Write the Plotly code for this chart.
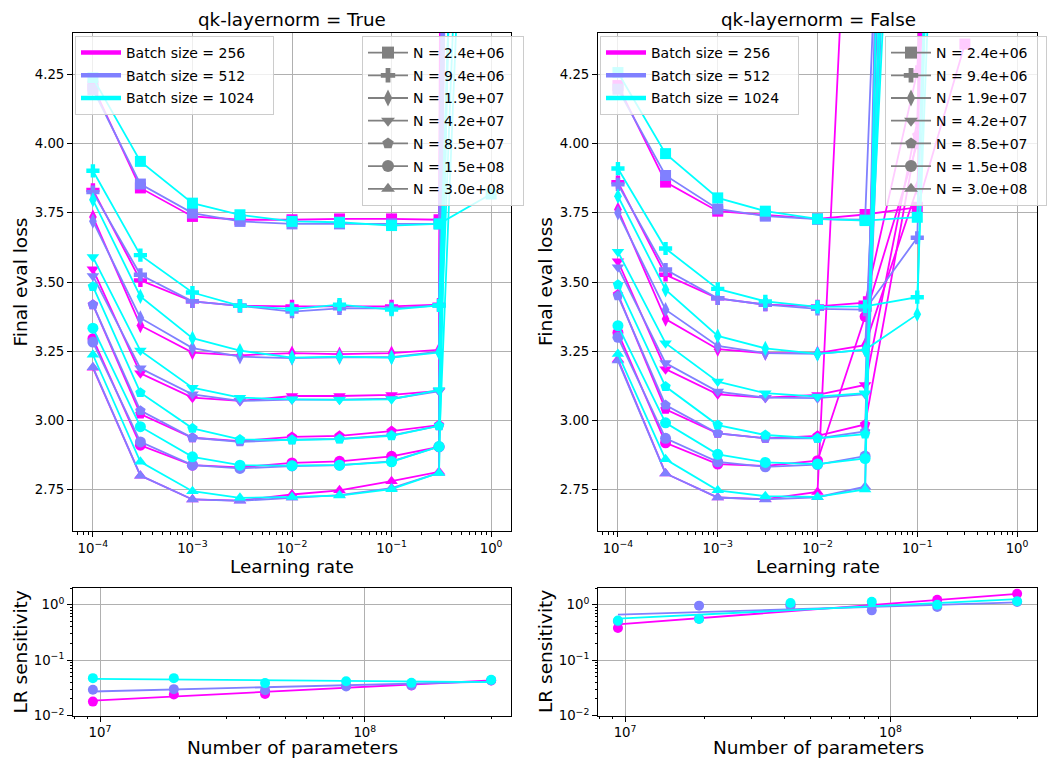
import plotly.graph_objects as go

W, H = 1047, 759

# ---------------- data ----------------
learning_rates = [1e-4, 3e-4, 1e-3, 3e-3, 1e-2, 3e-2, 1e-1, 3e-1, 1.0]
batch_sizes = [256, 512, 1024]
batch_colors = ["#ff00ff", "#8080ff", "#00ffff"]
model_sizes = [2.4e6, 9.4e6, 1.9e7, 4.2e7, 8.5e7, 1.5e8, 3.0e8]
model_labels = ["N = 2.4e+06", "N = 9.4e+06", "N = 1.9e+07", "N = 4.2e+07",
                "N = 8.5e+07", "N = 1.5e+08", "N = 3.0e+08"]
model_symbols = ["square", "cross", "diamond-tall", "triangle-down",
                 "pentagon", "circle", "triangle-up"]

# final eval loss, qk-layernorm = True  (rows: model sizes, cols: learning rates)
loss_qk_true_bs256 = [
    [4.208, 3.840, 3.737, 3.725, 3.725, 3.728, 3.728, 3.725, 45],
    [3.833, 3.506, 3.430, 3.414, 3.412, 3.412, 3.412, 3.418, 40],
    [3.735, 3.343, 3.245, 3.235, 3.243, 3.239, 3.243, 3.255, 35],
    [3.546, 3.170, 3.082, 3.070, 3.088, 3.088, 3.092, 3.106, 50],
    [3.418, 3.023, 2.937, 2.925, 2.940, 2.944, 2.961, 2.983, 30],
    [3.295, 2.910, 2.838, 2.830, 2.846, 2.852, 2.870, 2.904, 38],
    [3.190, 2.800, 2.714, 2.710, 2.732, 2.747, 2.780, 2.814, 42],
]
loss_qk_true_bs512 = [
    [4.196, 3.854, 3.749, 3.719, 3.710, 3.710, 3.710, 3.710, 20],
    [3.825, 3.526, 3.430, 3.414, 3.393, 3.405, 3.405, 3.415, 18],
    [3.720, 3.370, 3.261, 3.230, 3.225, 3.228, 3.228, 3.248, 22],
    [3.522, 3.188, 3.094, 3.070, 3.075, 3.075, 3.078, 3.105, 16],
    [3.418, 3.035, 2.937, 2.922, 2.930, 2.933, 2.946, 2.980, 25],
    [3.283, 2.922, 2.838, 2.826, 2.835, 2.838, 2.852, 2.905, 19],
    [3.192, 2.800, 2.714, 2.709, 2.720, 2.730, 2.755, 2.810, 21],
]
loss_qk_true_bs1024 = [
    [4.238, 3.936, 3.785, 3.743, 3.719, 3.716, 3.704, 3.710, 3.818],
    [3.902, 3.597, 3.462, 3.414, 3.402, 3.418, 3.400, 3.415, 9],
    [3.797, 3.448, 3.297, 3.252, 3.227, 3.230, 3.227, 3.245, 10],
    [3.590, 3.252, 3.118, 3.082, 3.076, 3.074, 3.076, 3.110, 8],
    [3.484, 3.100, 2.971, 2.931, 2.929, 2.932, 2.944, 2.980, 11],
    [3.333, 2.977, 2.868, 2.838, 2.836, 2.838, 2.850, 2.905, 7.5],
    [3.237, 2.850, 2.744, 2.720, 2.723, 2.728, 2.751, 2.810, 12],
]

# final eval loss, qk-layernorm = False
loss_qk_false_bs256 = [
    [4.210, 3.861, 3.756, 3.742, 3.728, 3.744, 3.770, 4.360, None],
    [3.861, 3.526, 3.441, 3.418, 3.412, 3.425, 4.260, 9, None],
    [3.762, 3.366, 3.257, 3.243, 3.243, 3.272, 3.840, 8, None],
    [3.575, 3.185, 3.094, 3.082, 3.092, 3.128, 4.080, 10, None],
    [3.455, 3.040, 2.953, 2.935, 2.944, 2.985, 4.030, 9, None],
    [3.317, 2.919, 2.842, 2.835, 2.854, 3.375, 4.000, 8.5, None],
    [3.220, 2.808, 2.721, 2.715, 2.741, 6.3, 8, 9, None],
]
loss_qk_false_bs512 = [
    [4.197, 3.885, 3.764, 3.738, 3.727, 3.725, 8.5, 9, None],
    [3.853, 3.545, 3.441, 3.418, 3.403, 3.400, 3.660, 9.5, None],
    [3.750, 3.400, 3.269, 3.243, 3.240, 3.255, 7.5, 8, None],
    [3.553, 3.207, 3.104, 3.082, 3.080, 3.095, 9, 9, None],
    [3.450, 3.055, 2.953, 2.935, 2.935, 2.960, 10, 9, None],
    [3.300, 2.935, 2.850, 2.832, 2.840, 2.871, 8, 9, None],
    [3.216, 2.808, 2.721, 2.714, 2.722, 2.760, 12, 9, None],
]
loss_qk_false_bs1024 = [
    [4.257, 3.964, 3.804, 3.756, 3.728, 3.722, 3.734, 9, None],
    [3.910, 3.621, 3.475, 3.430, 3.410, 3.412, 3.445, 8, None],
    [3.810, 3.472, 3.305, 3.260, 3.240, 3.255, 3.383, 10, None],
    [3.609, 3.279, 3.140, 3.098, 3.086, 3.098, 7, 9, None],
    [3.490, 3.122, 2.983, 2.947, 2.935, 2.950, 8, 9, None],
    [3.342, 2.991, 2.877, 2.848, 2.842, 2.862, 9, 9, None],
    [3.240, 2.859, 2.747, 2.726, 2.723, 2.750, 11, 9, None],
]

# LR sensitivity vs number of parameters
sens_params = [9.4e6, 1.9e7, 4.2e7, 8.5e7, 1.5e8, 3.0e8]
sens_qk_true_bs256 = [0.0178, 0.0240, 0.0245, 0.0345, 0.0347, 0.0428]
sens_qk_true_bs512 = [0.0292, 0.0299, 0.0285, 0.0333, 0.0350, 0.0430]
sens_qk_true_bs1024 = [0.0472, 0.0472, 0.0384, 0.0415, 0.0388, 0.0440]
sens_qk_false_bs256 = [0.379, 0.560, 1.000, 0.980, 1.230, 1.580]
sens_qk_false_bs512 = [0.500, 0.960, 0.950, 0.790, 0.910, 1.120]
sens_qk_false_bs1024 = [0.520, 0.550, 1.070, 1.130, 1.000, 1.150]
# power-law fit values at the smallest and largest model
fit_qk_true_bs256 = [0.0186, 0.0428]
fit_qk_true_bs512 = [0.0271, 0.0410]
fit_qk_true_bs1024 = [0.0459, 0.0400]
fit_qk_false_bs256 = [0.440, 1.570]
fit_qk_false_bs512 = [0.660, 1.100]
fit_qk_false_bs1024 = [0.560, 1.260]

# ---------------- figure ----------------
FONT = "DejaVu Sans"
fig = go.Figure()

panels = [
    ("x", "y", [loss_qk_true_bs256, loss_qk_true_bs512, loss_qk_true_bs1024]),
    ("x2", "y2", [loss_qk_false_bs256, loss_qk_false_bs512, loss_qk_false_bs1024]),
]
for xa, ya, series in panels:
    for bi, table in enumerate(series):
        for mi, row in enumerate(table):
            fig.add_trace(go.Scatter(
                x=learning_rates, y=row, xaxis=xa, yaxis=ya, mode="lines+markers",
                line=dict(color=batch_colors[bi], width=1.8),
                marker=dict(symbol=model_symbols[mi], size=11, color=batch_colors[bi]),
                showlegend=False, hoverinfo="skip"))

bottom = [
    ("x3", "y3", [sens_qk_true_bs256, sens_qk_true_bs512, sens_qk_true_bs1024],
     [fit_qk_true_bs256, fit_qk_true_bs512, fit_qk_true_bs1024]),
    ("x4", "y4", [sens_qk_false_bs256, sens_qk_false_bs512, sens_qk_false_bs1024],
     [fit_qk_false_bs256, fit_qk_false_bs512, fit_qk_false_bs1024]),
]
for xa, ya, sens, fits in bottom:
    for bi in range(3):
        fig.add_trace(go.Scatter(
            x=sens_params, y=sens[bi], xaxis=xa, yaxis=ya, mode="markers",
            marker=dict(symbol="circle", size=10, color=batch_colors[bi]),
            showlegend=False, hoverinfo="skip"))
        fig.add_trace(go.Scatter(
            x=[sens_params[0], sens_params[-1]], y=fits[bi], xaxis=xa, yaxis=ya,
            mode="lines", line=dict(color=batch_colors[bi], width=1.8),
            showlegend=False, hoverinfo="skip"))

# legend entries (non-breaking spaces widen the legend boxes a little)
PAD = "\u00a0\u00a0\u00a0"
for xa, ya, lg_bs, lg_n in [("x", "y", "legend", "legend2"), ("x2", "y2", "legend3", "legend4")]:
    for bi, bs in enumerate(batch_sizes):
        fig.add_trace(go.Scatter(
            x=[None], y=[None], xaxis=xa, yaxis=ya, mode="lines",
            line=dict(color=batch_colors[bi], width=4.5),
            name=f"Batch size = {bs}" + PAD, legend=lg_bs, legendgroup=f"{lg_bs}{bi}"))
    for mi, lab in enumerate(model_labels):
        fig.add_trace(go.Scatter(
            x=[None], y=[None], xaxis=xa, yaxis=ya, mode="lines+markers",
            line=dict(color="#808080", width=1.8),
            marker=dict(symbol=model_symbols[mi], size=12, color="#808080"),
            name=lab + PAD, legend=lg_n, legendgroup=f"{lg_n}{mi}"))

def px_x(p):
    return p / W

def px_y(p):
    return 1 - p / H

GRID = "#b0b0b0"
TICKFONT = dict(family=FONT, size=13.3, color="black")

def sup(e):
    return f"10<sup>{str(e).replace('-', '−')}</sup>"

def log_minor(lo, hi):
    return [k * 10.0 ** e for e in range(lo, hi) for k in range(2, 10)]

common = dict(showline=True, linecolor="black", linewidth=1, mirror=True,
              ticks="outside", ticklen=5, tickwidth=1, tickcolor="black",
              showgrid=True, gridcolor=GRID, gridwidth=0.8, zeroline=False,
              tickfont=TICKFONT, automargin=False)

lr_ticks = [1e-4, 1e-3, 1e-2, 1e-1, 1.0]
lr_text = [sup(-4), sup(-3), sup(-2), sup(-1), sup(0)]
lr_axis = dict(type="log", range=[-4.2, 0.2], tickmode="array", tickvals=lr_ticks,
               ticktext=lr_text,
               minor=dict(tickmode="array", tickvals=log_minor(-5, 1), ticks="outside",
                          ticklen=2.5, tickcolor="black", showgrid=False), **common)
loss_axis = dict(range=[2.6, 4.4], tick0=2.75, dtick=0.25, tickformat=".2f", **common)

n_axis = dict(type="log", range=[6.898, 8.552], tickmode="array", tickvals=[1e7, 1e8],
              ticktext=[sup(7), sup(8)],
              minor=dict(tickmode="array", tickvals=log_minor(6, 9), ticks="outside",
                         ticklen=2.5, tickcolor="black", showgrid=False), **common)
sens_axis = dict(type="log", range=[-2, 0.301], tickmode="array",
                 tickvals=[0.01, 0.1, 1.0], ticktext=[sup(-2), sup(-1), sup(0)],
                 minor=dict(tickmode="array", tickvals=log_minor(-3, 1), ticks="outside",
                            ticklen=2.5, tickcolor="black", showgrid=False), **common)

# pixel boxes of the four panels: (left, right, top, bottom)
BOX = {
    "x": (73, 511, 33, 531), "x2": (598, 1037, 33, 531),
    "x3": (73, 511, 588, 715.5), "x4": (598, 1037, 588, 715.5),
}

def dom(ax):
    l, r, t, b = BOX[ax]
    return [l / W, r / W], [1 - b / H, 1 - t / H]

legend_common = dict(bgcolor="rgba(255,255,255,0.8)", bordercolor="#cccccc", borderwidth=1,
                     font=dict(family=FONT, size=14, color="black"), yanchor="top",
                     tracegroupgap=1.5, itemwidth=40, traceorder="grouped")

fig.update_layout(
    width=W, height=H, margin=dict(l=0, r=0, t=0, b=0, autoexpand=False),
    paper_bgcolor="white", plot_bgcolor="white",
    font=dict(family=FONT, color="black"),
    xaxis=dict(domain=dom("x")[0], anchor="y", **lr_axis),
    yaxis=dict(domain=dom("x")[1], anchor="x", **loss_axis),
    xaxis2=dict(domain=dom("x2")[0], anchor="y2", **lr_axis),
    yaxis2=dict(domain=dom("x2")[1], anchor="x2", **loss_axis),
    xaxis3=dict(domain=dom("x3")[0], anchor="y3", **n_axis),
    yaxis3=dict(domain=dom("x3")[1], anchor="x3", **sens_axis),
    xaxis4=dict(domain=dom("x4")[0], anchor="y4", **n_axis),
    yaxis4=dict(domain=dom("x4")[1], anchor="x4", **sens_axis),
    legend=dict(x=px_x(75), y=px_y(36), xanchor="left", **legend_common),
    legend2=dict(x=px_x(524), y=px_y(36), xanchor="right", **legend_common),
    legend3=dict(x=px_x(600), y=px_y(36), xanchor="left", **legend_common),
    legend4=dict(x=1.0, y=px_y(36), xanchor="right", **legend_common),
)

def label(text, ax, x, y, size, angle=0):
    """place a text at pixel (x, y), referenced to the domain of panel `ax`"""
    l, r, t, b = BOX[ax]
    ya = "y" + ax[1:]
    fig.add_annotation(text=text, x=(x - l) / (r - l), y=(b - y) / (b - t),
                       xref=f"{ax} domain", yref=f"{ya} domain",
                       showarrow=False, textangle=angle, xanchor="center", yanchor="middle",
                       font=dict(family=FONT, size=size, color="black"))

label("qk-layernorm = True", "x", 292, 20, 18.3)
label("qk-layernorm = False", "x2", 818, 20, 18.3)
label("Final eval loss", "x", 19.5, 282, 18.5, -90)
label("Final eval loss", "x2", 545, 282, 18.5, -90)
label("Learning rate", "x", 292, 566, 18.5)
label("Learning rate", "x2", 818, 566, 18.5)
label("LR sensitivity", "x3", 19.5, 652, 18.5, -90)
label("LR sensitivity", "x4", 545, 652, 18.5, -90)
label("Number of parameters", "x3", 292, 747.5, 18.5)
label("Number of parameters", "x4", 818, 747.5, 18.5)

fig.write_html("out.html", config={"displayModeBar": False},
               post_script="document.body.style.margin='0';document.body.style.overflow='hidden';")
